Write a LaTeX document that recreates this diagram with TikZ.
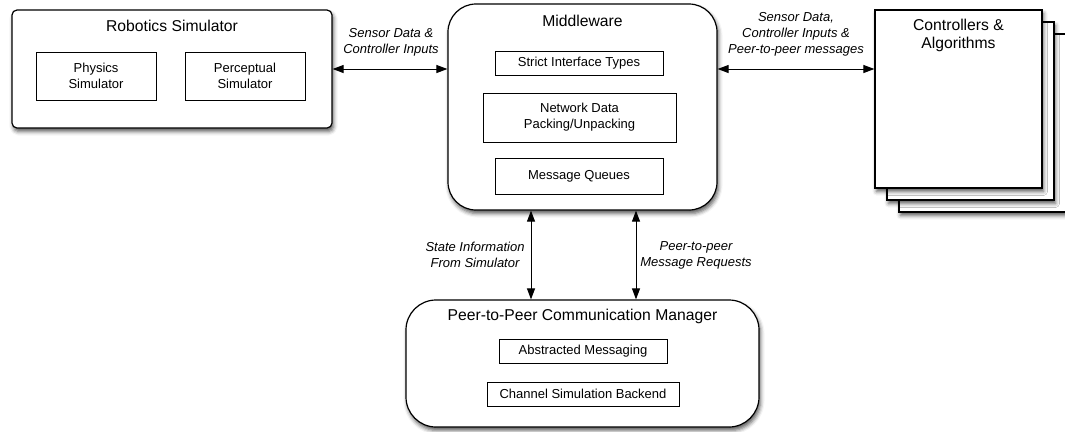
\documentclass[tikz,border=0pt]{standalone}
\usepackage{fontspec}
\setmainfont{Liberation Sans}
\usetikzlibrary{arrows.meta,calc,shadows.blur}

\begin{document}
\begin{tikzpicture}[x=1bp,y=-1bp,
  shd/.style={blur shadow={shadow xshift=1.5bp,shadow yshift=-3.5bp,shadow blur radius=4bp,shadow opacity=65}},
  box/.style={draw,line width=1.2bp,fill=white,inner sep=0pt,shd},
  inbox/.style={draw,line width=0.8bp,fill=white,inner sep=0pt,align=center,font=\fontsize{13bp}{16bp}\selectfont},
  page/.style={box,minimum width=167bp,minimum height=178bp},
  ttl/.style={align=center,inner sep=0pt,font=\fontsize{15.7bp}{18bp}\selectfont},
  lbl/.style={align=center,inner sep=0pt,font=\fontsize{13bp}{16bp}\itshape},
  biarr/.style={{Triangle[length=11bp,width=8bp]}-{Triangle[length=11bp,width=8bp]},line width=1bp}]
\useasboundingbox(0,0)rectangle(1065,431);
\node[box,rounded corners=5bp,minimum width=320bp,minimum height=118bp](sim)at(172,69){};\node[ttl](simt)at(172,26){Robotics Simulator};
\node[inbox,minimum width=120bp,minimum height=48bp](phys)at(96,76){Physics\\Simulator};\node[inbox,minimum width=120bp,minimum height=48bp](perc)at(245,76){Perceptual\\Simulator};
\node[box,rounded corners=28bp,minimum width=269bp,minimum height=206bp](mw)at(582.5,107){};\node[ttl](mwt)at(582.5,21){Middleware};
\node[inbox,minimum width=168bp,minimum height=24bp](sit)at(579,63){Strict Interface Types};
\node[inbox,minimum width=193bp,minimum height=49bp](ndp)at(579.5,117.5){Network Data\\Packing/Unpacking};
\node[inbox,minimum width=168bp,minimum height=36bp](mq)at(579,176){Message Queues};
\node[page](ctlc)at(982.5,123){};\node[page](ctlb)at(970.5,111){};\node[page](ctl)at(958.5,99){};\node[ttl](ctlt)at(958.5,35){Controllers \&\\Algorithms};
\node[box,rounded corners=30bp,minimum width=353bp,minimum height=127bp](p2p)at(582.5,363.5){};\node[ttl](p2pt)at(582.5,316){Peer-to-Peer Communication Manager};
\node[inbox,minimum width=168bp,minimum height=24bp](am)at(583,351){Abstracted Messaging};
\node[inbox,minimum width=192bp,minimum height=24bp](csb)at(583,394){Channel Simulation Backend};
\draw[biarr](sim.east)--(sim.east-|mw.west);\node[lbl](sdl)at(391,42){Sensor Data \&\\Controller Inputs};
\draw[biarr](sim.east-|mw.east)--(sim.east-|ctl.west);\node[lbl](sdr)at(796,34){Sensor Data,\\Controller Inputs \&\\Peer-to-peer messages};
\draw[biarr]($(mw.south)+(-51.5,0)$)--($(p2p.north)+(-51.5,0)$);\node[lbl](sil)at(475,255){State Information\\From Simulator};
\draw[biarr]($(mw.south)+(53.5,0)$)--($(p2p.north)+(53.5,0)$);\node[lbl](mrl)at(696,255){Peer-to-peer\\Message Requests};
\end{tikzpicture}
\end{document}
